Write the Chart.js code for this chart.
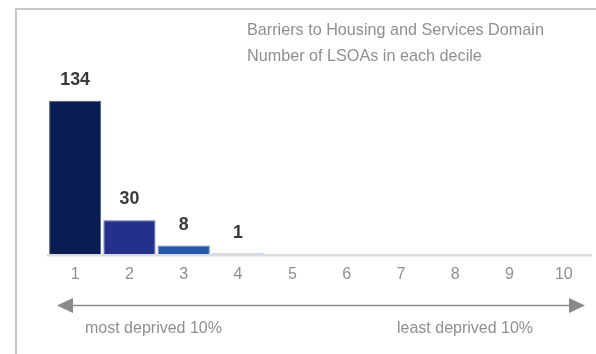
<!DOCTYPE html>
<html>
<head>
<meta charset="utf-8">
<script src="https://cdn.jsdelivr.net/npm/chart.js@4/dist/chart.umd.min.js"></script>
<style>
  html, body { margin: 0; padding: 0; background: #fff; }
  #wrap { position: relative; width: 596px; height: 354px; overflow: hidden; font-family: "Liberation Sans", Arial, sans-serif; }
  #frame { position: absolute; left: 15px; top: 8px; right: -4px; bottom: -4px; border-top: 2px solid #c9c9c9; border-left: 2px solid #c9c9c9; }
  #chart { position: absolute; left: 0; top: 0; }
  .title { position: absolute; left: 247px; color: #8f8f8f; font-size: 16.2px; line-height: 18px; white-space: nowrap; }
  .cap { position: absolute; color: #8f8f8f; font-size: 16px; line-height: 18px; white-space: nowrap; }
</style>
</head>
<body>
<div id="wrap">
  <div id="frame"></div>
  <canvas id="chart" width="596" height="354"></canvas>
  <div class="title" style="top:19.5px">Barriers to Housing and Services Domain</div>
  <div class="title" style="top:46px">Number of LSOAs in each decile</div>
  <div class="cap" style="left:85px; top:319px">most deprived 10%</div>
  <div class="cap" style="left:397px; top:319px">least deprived 10%</div>
</div>
<script>
// Deciles of deprivation and the count of LSOAs falling in each
const deciles = ['1', '2', '3', '4', '5', '6', '7', '8', '9', '10'];
const lsoaCounts = [134, 30, 8, 1, 0, 0, 0, 0, 0, 0];
const barColors = ['#0a1d53', '#23318d', '#2757a8', '#2d66b8', '#3575c4', '#3d84cc', '#4693d3', '#55a2da', '#66b0e0', '#78bde6'];
const barEdges = ['#4c5a85', '#5a66a8', '#5f83c0', '#6990cc', '#6f99d4', '#75a3da', '#7dafe0', '#88bbe5', '#95c5ea', '#a3cfee'];

// Value labels above each non-empty bar
const valueLabels = {
  id: 'valueLabels',
  afterDraw(chart) {
    const ctx = chart.ctx;
    const meta = chart.getDatasetMeta(0);
    ctx.save();
    ctx.fillStyle = '#3a3a3a';
    ctx.font = 'bold 17.8px "Liberation Sans", Arial, sans-serif';
    ctx.textAlign = 'center';
    ctx.textBaseline = 'middle';
    meta.data.forEach((bar, i) => {
      const v = lsoaCounts[i];
      if (!v) return;
      ctx.fillText(String(v), bar.x, bar.y - 21);
    });
    ctx.restore();
  }
};

// Double-headed arrow running under the decile axis
const decileArrow = {
  id: 'decileArrow',
  afterDraw(chart) {
    const ctx = chart.ctx;
    const a = chart.chartArea;
    const y = 305.5;
    const l = a.left + 9, r = a.right - 6;
    ctx.save();
    ctx.strokeStyle = '#8a8a8a';
    ctx.fillStyle = '#8a8a8a';
    ctx.lineWidth = 1.5;
    ctx.beginPath();
    ctx.moveTo(l + 10, y);
    ctx.lineTo(r - 10, y);
    ctx.stroke();
    ctx.beginPath();
    ctx.moveTo(l, y);
    ctx.lineTo(l + 16, y - 7.5);
    ctx.lineTo(l + 16, y + 7.5);
    ctx.closePath();
    ctx.fill();
    ctx.beginPath();
    ctx.moveTo(r, y);
    ctx.lineTo(r - 16, y - 7.5);
    ctx.lineTo(r - 16, y + 7.5);
    ctx.closePath();
    ctx.fill();
    ctx.restore();
  }
};

new Chart(document.getElementById('chart'), {
  type: 'bar',
  data: {
    labels: deciles,
    datasets: [{
      data: lsoaCounts,
      backgroundColor: barColors,
      borderColor: barEdges,
      borderWidth: lsoaCounts.map(v => (v > 2 ? 1 : 0)),
      barPercentage: 0.96,
      categoryPercentage: 1.0
    }]
  },
  options: {
    responsive: false,
    animation: false,
    devicePixelRatio: 1,
    layout: { padding: { left: 48, right: 5, top: 71, bottom: 59 } },
    plugins: { legend: { display: false }, tooltip: { enabled: false }, title: { display: false } },
    scales: {
      x: {
        grid: { display: false, drawTicks: false },
        border: { display: true, color: '#dcdcdc', width: 2.6, z: 1 },
        ticks: { color: '#8f8f8f', font: { family: '"Liberation Sans", Arial, sans-serif', size: 16 }, padding: 10.5 }
      },
      y: {
        display: false,
        min: 0,
        max: 160
      }
    }
  },
  plugins: [valueLabels, decileArrow]
});
</script>
</body>
</html>
